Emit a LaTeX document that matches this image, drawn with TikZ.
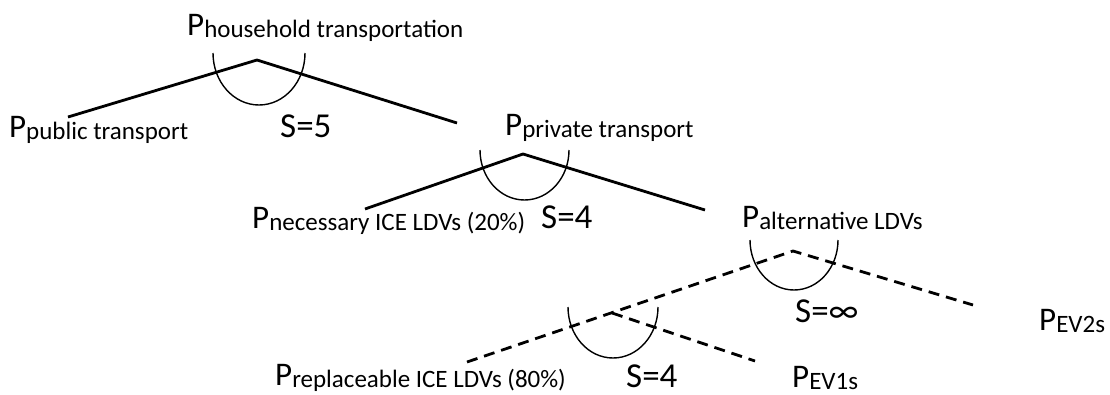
\documentclass[tikz,border=0pt]{standalone}
\usepackage{fontspec}
\setmainfont{Carlito}
\newcommand\Psub[1]{P{\fontsize{25}{25}\selectfont\raisebox{-2pt}{#1}}}
\tikzset{
  ptext/.style={anchor=base west, inner sep=0pt, font=\fontsize{33}{36}\selectfont},
  slabel/.style={anchor=base west, inner sep=0pt, font=\fontsize{35}{38}\selectfont},
  branch/.style={line width=2.8pt, line join=miter},
  dbranch/.style={line width=2.8pt, dash pattern=on 11pt off 7pt},
  nest/.style={line width=1.4pt},
}
\begin{document}
\begin{tikzpicture}[x=1pt,y=-1pt]
\useasboundingbox (0,0) rectangle (1110,394);
% labels
\node[ptext] (ht)  at (187,35)  {\Psub{household transportation}};
\node[ptext] (pub) at (9,137)   {\Psub{public transport}};
\node[ptext] (pri) at (505,135) {\Psub{private transport}};
\node[ptext] (nec) at (252,228) {\Psub{necessary ICE LDVs (20\%)}};
\node[ptext] (alt) at (742,227) {\Psub{alternative LDVs}};
\node[ptext] (rep) at (275,385) {\Psub{replaceable ICE LDVs (80\%)}};
\node[ptext] (ev1) at (792,387) {\Psub{EV1s}};
\node[ptext] (ev2) at (1039,330){\Psub{EV2s}};
\node[slabel] (s1) at (280,137) {S=5};
\node[slabel] (s2) at (541,228) {S=4};
\node[slabel] (s3) at (795,322) {S=∞};
\node[slabel] (s4) at (626,387) {S=4};
% branch points and ends
\coordinate (a1) at (257,60);
\coordinate (e1l) at (68,117);
\coordinate (e1r) at (457,123);
\coordinate (a2) at (523,154);
\coordinate (e2l) at (365,209);
\coordinate (e2r) at (705,210);
\coordinate (a3) at (793,251);
\coordinate (e3l) at (467,362);
\coordinate (e3r) at (973,305);
\coordinate (a4) at (612,313);
\coordinate (e4r) at (755,361);
% connectors
\draw[branch] (e1l) -- (a1) -- (e1r);
\draw[branch] (e2l) -- (a2) -- (e2r);
\draw[dbranch] (e3l) -- (a3) -- (e3r);
\draw[dbranch] (a4) -- (e4r);
% nest arcs
\draw[nest] (213,53) arc[start angle=180, end angle=360, x radius=46pt, y radius=52pt];
\draw[nest] (480,150) arc[start angle=180, end angle=360, x radius=44.5pt, y radius=50pt];
\draw[nest] (750,240) arc[start angle=180, end angle=360, x radius=44pt, y radius=50pt];
\draw[nest] (568,307) arc[start angle=180, end angle=360, x radius=45pt, y radius=51pt];
\end{tikzpicture}
\end{document}
